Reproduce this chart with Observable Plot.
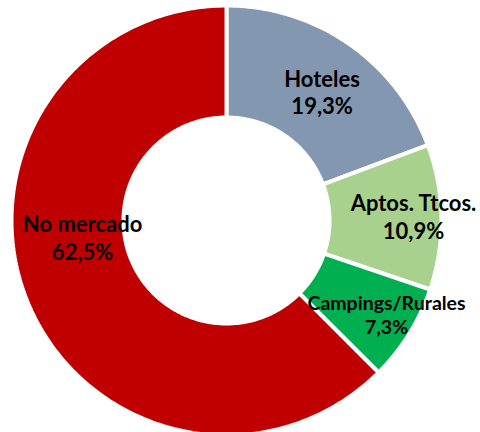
<!DOCTYPE html>
<html>
<head>
<meta charset="utf-8">
<script src="https://cdn.jsdelivr.net/npm/d3@7"></script>
<script src="https://cdn.jsdelivr.net/npm/@observablehq/plot@0.6"></script>
<style>
  html, body { margin: 0; padding: 0; background: #fff; overflow: hidden; }
  #chart svg { display: block; }
</style>
</head>
<body>
<div id="chart"></div>
<script>
// ---- data ----
const categories = ["Hoteles", "Aptos. Ttcos.", "Campings/Rurales", "No mercado"];
const shares = [19.3, 10.9, 7.3, 62.5];

// ---- style / layout ----
const colors = ["#8497B0", "#A9D18E", "#00B050", "#C00000"];
const labelSizes = [22, 22, 19.5, 22];
const labelNudge = [[5, 2], [28, -2], [25, 10], [3, -44]]; // pixels
const cx = 226, cy = 220, R = 215, r0 = 103;
const inner = r0 / R;

const total = d3.sum(shares);
let acc = 0;
const slices = categories.map((c, i) => {
  const a0 = acc / total * 2 * Math.PI;
  acc += shares[i];
  const a1 = acc / total * 2 * Math.PI;
  return {c, i, a0, a1, v: shares[i]};
});

// polygon points per slice (angle clockwise from 12 o'clock)
const pts = [];
for (const s of slices) {
  const n = Math.max(8, Math.ceil((s.a1 - s.a0) / (2 * Math.PI) * 360));
  const poly = [];
  for (let k = 0; k <= n; k++) {
    const a = s.a0 + (s.a1 - s.a0) * k / n;
    poly.push({c: s.c, x: Math.sin(a), y: Math.cos(a)});
  }
  for (let k = n; k >= 0; k--) {
    const a = s.a0 + (s.a1 - s.a0) * k / n;
    poly.push({c: s.c, x: inner * Math.sin(a), y: inner * Math.cos(a)});
  }
  poly.push({...poly[0]});
  pts.push(poly);
}

const mid = (1 + inner) / 2;
const labels = slices.map(s => {
  const a = (s.a0 + s.a1) / 2;
  return {
    c: s.c,
    text: s.c + "\n" + s.v.toFixed(1).replace(".", ",") + "%",
    x: mid * Math.sin(a) + labelNudge[s.i][0] / R,
    y: mid * Math.cos(a) - labelNudge[s.i][1] / R,
    size: labelSizes[s.i]
  };
});

const chart = Plot.plot({
  width: 480,
  height: 432,
  margin: 0,
  style: {background: "#fff", fontFamily: "Lato, 'Noto Sans', sans-serif"},
  x: {domain: [-1, 1], range: [cx - R, cx + R], axis: null},
  y: {domain: [-1, 1], range: [cy + R, cy - R], axis: null},
  marks: [
    ...pts.map((poly, i) => Plot.line(poly, {
      x: "x", y: "y", fill: colors[i], stroke: "#fff", strokeWidth: 4, strokeLinejoin: "miter"
    })),
    Plot.text(labels, {
      x: "x", y: "y", text: "text", fontSize: "size", fontWeight: "bold",
      fill: "#000", lineHeight: 1.25, lineAnchor: "middle", textAnchor: "middle"
    })
  ]
});
document.getElementById("chart").appendChild(chart);
</script>
</body>
</html>
